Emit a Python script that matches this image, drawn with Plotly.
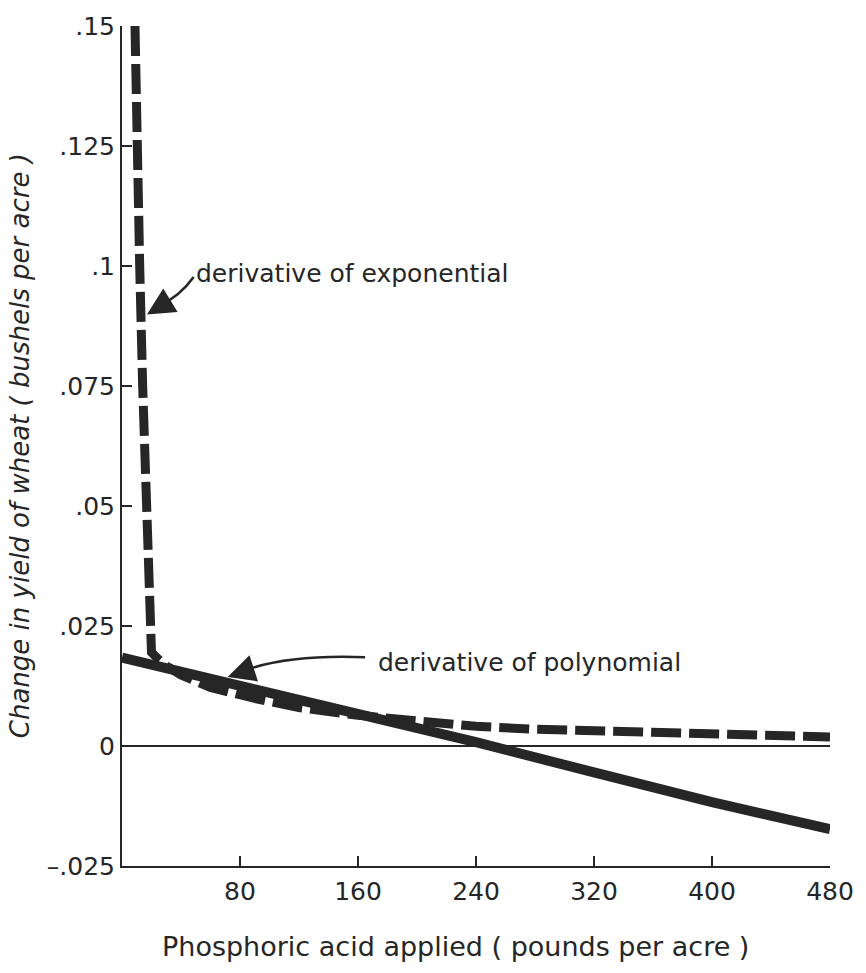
import plotly.graph_objects as go

# Phosphoric acid applied (pounds per acre)
poly_x = [0, 80, 160, 240, 320, 400, 480]
poly_y = [0.0184, 0.0126, 0.0068, 0.0008, -0.0055, -0.0117, -0.0173]

exp_x = [8.8, 10, 12, 14, 16.5, 19, 20, 25, 30, 40, 60, 90, 120, 160, 200, 240, 280, 320, 360, 400, 440, 480]
exp_y = [0.150, 0.125, 0.100, 0.075, 0.050, 0.024, 0.0195, 0.018, 0.0167, 0.0148, 0.0122, 0.0099,
         0.0080, 0.0064, 0.0052, 0.0041, 0.0035, 0.0032, 0.0029, 0.0027, 0.0023, 0.0019]

x_ticks = [80, 160, 240, 320, 400, 480]
y_ticks = [-0.025, 0, 0.025, 0.05, 0.075, 0.1, 0.125, 0.15]
y_ticktext = ["\u2013.025", "0", ".025", ".05", ".075", ".1", ".125", ".15"]

INK = "#262626"
FONT = "DejaVu Sans"

fig = go.Figure()
fig.add_trace(go.Scatter(x=poly_x, y=poly_y, mode="lines",
                         line=dict(color=INK, width=10), showlegend=False))
fig.add_trace(go.Scatter(x=exp_x, y=exp_y, mode="lines",
                         line=dict(color=INK, width=9, dash="30px,8px"), showlegend=False))

# curved arrow shafts
fig.add_shape(type="path", xref="x", yref="y",
              path="M 48.6,0.0977 Q 39.2,0.0937 25.7,0.0918",
              line=dict(color=INK, width=2.5))
fig.add_shape(type="path", xref="x", yref="y",
              path="M 164.8,0.0185 Q 113.4,0.0191 83.7,0.0158",
              line=dict(color=INK, width=2.5))
# arrowheads
fig.add_annotation(x=16.9, y=0.0899, ax=26.5, ay=0.0917, xref="x", yref="y", axref="x", ayref="y",
                   text="", showarrow=True, arrowhead=2, arrowsize=2.2, arrowwidth=2.5, arrowcolor=INK)
fig.add_annotation(x=71.6, y=0.0144, ax=84.5, ay=0.0157, xref="x", yref="y", axref="x", ayref="y",
                   text="", showarrow=True, arrowhead=2, arrowsize=2.2, arrowwidth=2.5, arrowcolor=INK)

# labels
fig.add_annotation(x=48.5, y=0.0985, xref="x", yref="y", text="derivative of exponential",
                   showarrow=False, xanchor="left", yanchor="middle",
                   font=dict(family=FONT, size=25, color=INK))
fig.add_annotation(x=172.2, y=0.0175, xref="x", yref="y", text="derivative of polynomial",
                   showarrow=False, xanchor="left", yanchor="middle",
                   font=dict(family=FONT, size=25, color=INK))

# axis titles
fig.add_annotation(x=-0.143, y=0.5006, xref="paper", yref="paper",
                   text="<i>Change in yield of wheat ( bushels per acre )</i>", textangle=-90,
                   showarrow=False, xanchor="center", yanchor="middle",
                   font=dict(family=FONT, size=26, color=INK))
fig.add_annotation(x=0.471, y=-0.0954, xref="paper", yref="paper",
                   text="Phosphoric acid applied ( pounds per acre )",
                   showarrow=False, xanchor="center", yanchor="middle",
                   font=dict(family=FONT, size=27, color=INK))

fig.update_layout(
    width=866, height=973,
    margin=dict(l=122, r=33, t=17, b=107),
    paper_bgcolor="white", plot_bgcolor="white",
    showlegend=False,
    xaxis=dict(range=[0, 480], tickvals=x_ticks, ticks="inside", ticklen=10, tickwidth=2,
               tickcolor=INK, showline=True, linewidth=2, linecolor=INK, showgrid=False,
               zeroline=False, tickfont=dict(family=FONT, size=25, color=INK),
               ticklabelstandoff=2),
    yaxis=dict(range=[-0.025, 0.15], tickvals=y_ticks, ticktext=y_ticktext, ticks="inside",
               ticklen=10, tickwidth=2, tickcolor=INK, showline=True, linewidth=2, linecolor=INK,
               showgrid=False, zeroline=True, zerolinewidth=1.5, zerolinecolor=INK,
               tickfont=dict(family=FONT, size=25, color=INK)),
)

fig.write_html("out.html")
